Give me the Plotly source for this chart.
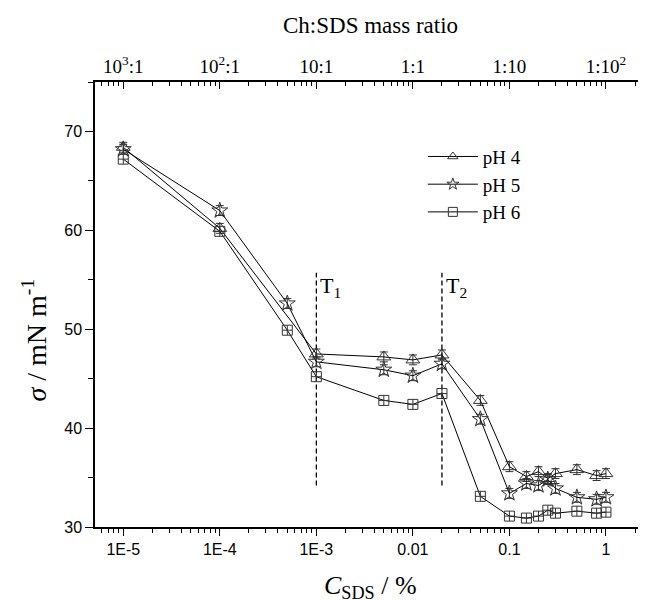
import math
import plotly.graph_objects as go

# ---- data ----
c_sds_ph4 = [1e-5, 1e-4, 1e-3, 5e-3, 1e-2, 2e-2, 5e-2, 0.1, 0.15, 0.2, 0.25, 0.3, 0.5, 0.8, 1.0]
sigma_ph4 = [68.4, 60.2, 47.5, 47.2, 46.9, 47.4, 42.8, 36.1, 35.1, 35.6, 34.9, 35.4, 35.8, 35.2, 35.4]

c_sds = [1e-5, 1e-4, 5e-4, 1e-3, 5e-3, 1e-2, 2e-2, 5e-2, 0.1, 0.15, 0.2, 0.25, 0.3, 0.5, 0.8, 1.0]
sigma_ph5 = [68.2, 62.0, 52.6, 46.7, 45.9, 45.3, 46.5, 40.9, 33.4, 34.4, 34.2, 34.8, 33.9, 33.0, 32.8, 33.0]
sigma_ph6 = [67.2, 59.9, 49.9, 45.2, 42.8, 42.4, 43.5, 33.1, 31.1, 30.9, 31.1, 31.7, 31.4, 31.6, 31.4, 31.5]

transition_x = [1e-3, 2e-2]
transition_labels = ["T<sub>1</sub>", "T<sub>2</sub>"]
transition_y_span = [34.2, 55.7]

bottom_tickvals = [1e-5, 1e-4, 1e-3, 1e-2, 1e-1, 1]
bottom_ticktext = ["1E-5", "1E-4", "1E-3", "0.01", "0.1", "1"]
top_ticktext = ["10<sup>3</sup>:1", "10<sup>2</sup>:1", "10:1", "1:1", "1:10", "1:10<sup>2</sup>"]

series_names = ["pH 4", "pH 5", "pH 6"]

SERIF = "Liberation Serif, Times New Roman, serif"
SANS = "Liberation Sans, Arial, sans-serif"
INK = "#000000"
MK = "#333333"

minor_vals = [m * 10 ** e for e in range(-6, 1) for m in range(2, 10)]

fig = go.Figure()

# dashed transition lines
for tx in transition_x:
    fig.add_trace(go.Scatter(x=[tx, tx], y=transition_y_span, mode="lines",
                             line=dict(color=INK, width=1.3, dash="5px,3px"),
                             showlegend=False, hoverinfo="skip"))

err = dict(type="constant", value=0.5, color=MK, thickness=1, width=4)

fig.add_trace(go.Scatter(x=c_sds_ph4, y=sigma_ph4, mode="lines+markers",
                         line=dict(color=INK, width=1),
                         marker=dict(symbol="triangle-up-open", size=12, color=MK, line=dict(width=1)),
                         error_y=err, showlegend=False))
fig.add_trace(go.Scatter(x=c_sds, y=sigma_ph5, mode="lines+markers",
                         line=dict(color=INK, width=1),
                         marker=dict(symbol="star-open", size=12, color=MK, line=dict(width=1)),
                         error_y=err, showlegend=False))
fig.add_trace(go.Scatter(x=c_sds, y=sigma_ph6, mode="lines+markers",
                         line=dict(color=INK, width=1),
                         marker=dict(symbol="square-cross-open", size=10, color=MK, line=dict(width=1)),
                         showlegend=False))

# legend entries (plain open symbols), placed on the top axis
for name, sym in zip(series_names, ["triangle-up-open", "star-open", "square-open"]):
    fig.add_trace(go.Scatter(x=[None], y=[None], xaxis="x2", mode="lines+markers", name=name,
                             line=dict(color=INK, width=1),
                             marker=dict(symbol=sym, size=9, color=MK, line=dict(width=1))))

xrange = [-5.293, 0.415]

# page body adds an 8px offset, so the figure is sized to fit the 646x600 window
fig.update_layout(
    width=638, height=592,
    margin=dict(l=87, r=0, t=74, b=73),
    paper_bgcolor="white", plot_bgcolor="white",
    showlegend=True,
    legend=dict(x=0.595, y=0.875, xanchor="left", yanchor="top",
                font=dict(family=SERIF, size=19, color=INK),
                bgcolor="rgba(0,0,0,0)", tracegroupgap=0, itemwidth=50),
    xaxis=dict(type="log", range=xrange, showline=True, linecolor=INK, linewidth=1.5,
               showgrid=False, zeroline=False,
               tickmode="array", tickvals=bottom_tickvals, ticktext=bottom_ticktext,
               ticks="outside", ticklen=7, tickwidth=1.2, tickcolor=INK,
               tickfont=dict(family=SANS, size=16, color=INK),
               minor=dict(tickmode="array", tickvals=minor_vals, ticks="outside",
                          ticklen=4, tickwidth=1, tickcolor=INK, showgrid=False)),
    xaxis2=dict(type="log", range=xrange, overlaying="x", side="top", anchor="y",
                showline=True, linecolor=INK, linewidth=1.5, showgrid=False, zeroline=False,
                tickmode="array", tickvals=bottom_tickvals, ticktext=top_ticktext,
                ticks="inside", ticklen=7, tickwidth=1.2, tickcolor=INK,
                tickfont=dict(family=SERIF, size=19, color=INK),
                minor=dict(tickmode="array", tickvals=minor_vals, ticks="inside",
                           ticklen=4, tickwidth=1, tickcolor=INK, showgrid=False)),
    yaxis=dict(range=[30, 75], showline=True, linecolor=INK, linewidth=1.5,
               showgrid=False, zeroline=False, dtick=10, tick0=30,
               ticks="outside", ticklen=8, tickwidth=1.2, tickcolor=INK,
               tickfont=dict(family=SANS, size=16, color=INK),
               minor=dict(dtick=5, ticks="outside", ticklen=5, tickwidth=1,
                          tickcolor=INK, showgrid=False)),
)

annotations = [
    dict(text="Ch:SDS mass ratio", xref="paper", yref="paper", x=0.5, y=1, yshift=57,
         showarrow=False, font=dict(family=SERIF, size=23, color=INK), yanchor="middle"),
    dict(text="<i>C</i><sub>SDS</sub> / %", xref="paper", yref="paper", x=0.5, y=0, yshift=-60,
         showarrow=False, font=dict(family=SERIF, size=26, color=INK), yanchor="middle"),
    dict(text="<i>σ</i>\u00a0/\u00a0mN\u00a0m<sup>-1</sup>", xref="paper", yref="paper", x=0, y=0.5,
         xshift=-60, yshift=-36, textangle=-90, showarrow=False,
         font=dict(family=SERIF, size=28, color=INK), xanchor="center", yanchor="middle"),
]
for tx, lab in zip(transition_x, transition_labels):
    annotations.append(dict(text=lab, xref="x", yref="y", x=math.log10(tx), y=transition_y_span[1],
                            xanchor="left", yanchor="top", xshift=2, yshift=2, showarrow=False,
                            font=dict(family=SERIF, size=22, color=INK)))
fig.update_layout(annotations=annotations)

fig.write_html("out.html")
